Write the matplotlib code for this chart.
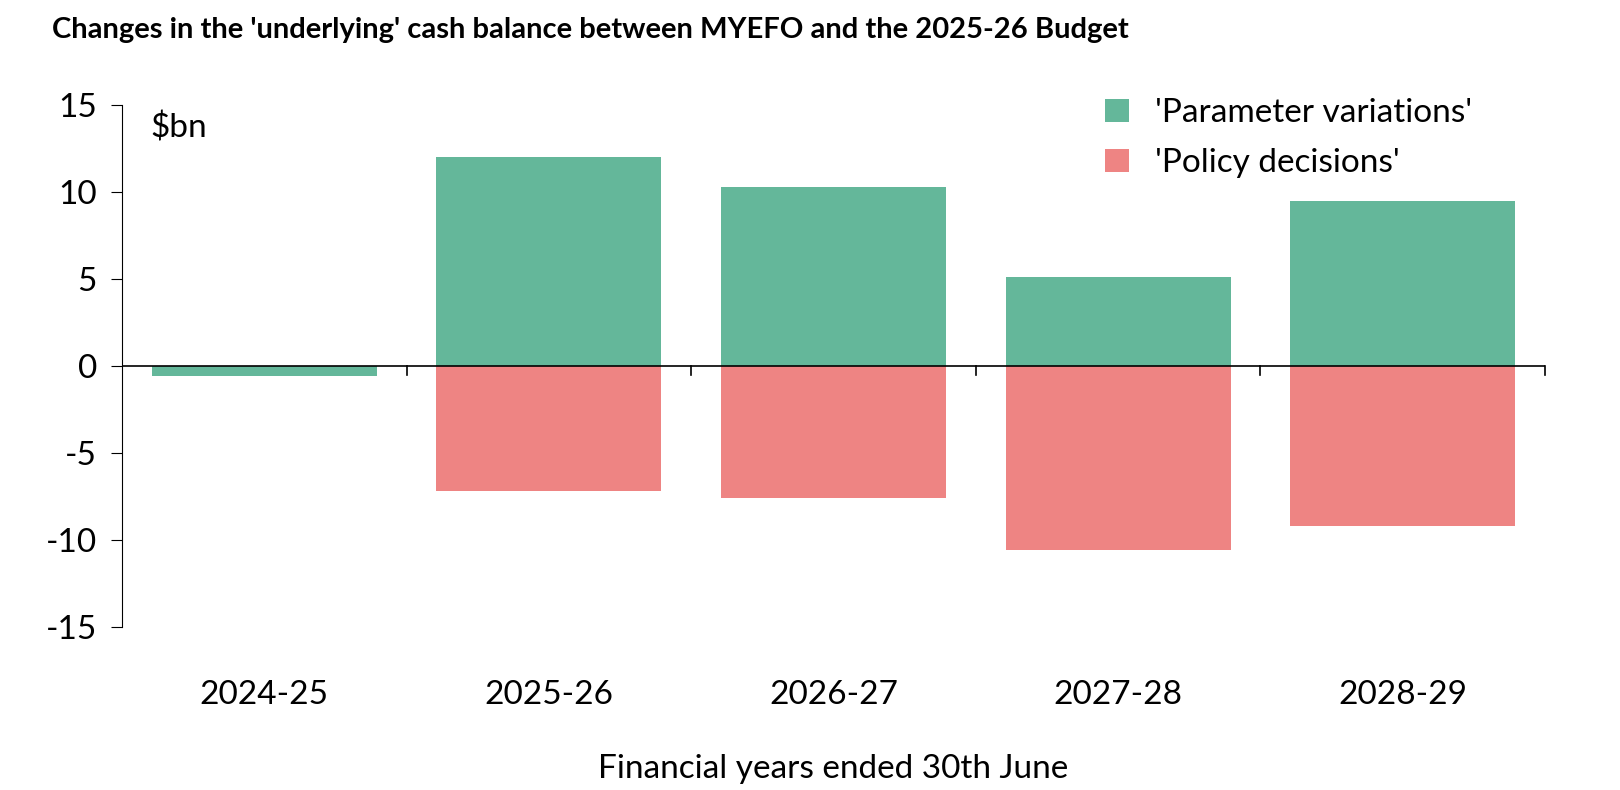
import matplotlib
matplotlib.use("Agg")
import matplotlib.pyplot as plt
import numpy as np

years = ["2024-25", "2025-26", "2026-27", "2027-28", "2028-29"]
param = [-0.6, 12.0, 10.3, 5.1, 9.5]
policy = [0.0, -7.2, -7.6, -10.6, -9.2]

plt.rcParams['font.family'] = ['Lato', 'DejaVu Sans']
plt.rcParams['axes.unicode_minus'] = False
fig = plt.figure(figsize=(16.2, 7.9), dpi=100)
ax = fig.add_axes([122/1620, 1-627/790, (1545-122)/1620, (627-105)/790])
x = np.arange(len(years))
ax.bar(x, param, width=0.79, color="#64b79a", label="'Parameter variations'", zorder=2)
ax.bar(x, policy, width=0.79, color="#ee8483", label="'Policy decisions'", zorder=2)
ax.set_xlim(-0.5, 4.5)
ax.set_ylim(-15, 15)
ax.set_yticks([-15, -10, -5, 0, 5, 10, 15])
ax.tick_params(axis='y', labelsize=24, length=8, direction='out', pad=10)
for s in ['top', 'right', 'bottom']:
    ax.spines[s].set_visible(False)
ax.spines['left'].set_color('black')
ax.axhline(0, color='black', lw=1.2, zorder=3)
for b in np.arange(0.5, 4.6, 1.0):
    ax.plot([b, b], [0, -0.5], color='black', lw=1.2, zorder=3, clip_on=False)
ax.set_xticks(x)
ax.set_xticklabels(years, fontsize=24)
ax.tick_params(axis='x', length=0, pad=38)
ax.set_xlabel("Financial years ended 30th June", fontsize=24, labelpad=32)
ax.text(0.02, 0.985, "$bn", transform=ax.transAxes, fontsize=24, va='top')
ax.legend(loc='upper right', bbox_to_anchor=(0.97, 1.07), fontsize=24, frameon=False,
          handlelength=0.7, handleheight=0.7, labelspacing=0.6)
fig.text(52/1620, 1-30/790, "Changes in the 'underlying' cash balance between MYEFO and the 2025-26 Budget",
         fontsize=21, fontweight='bold', va='center')
fig.savefig("out.png", dpi=100)
